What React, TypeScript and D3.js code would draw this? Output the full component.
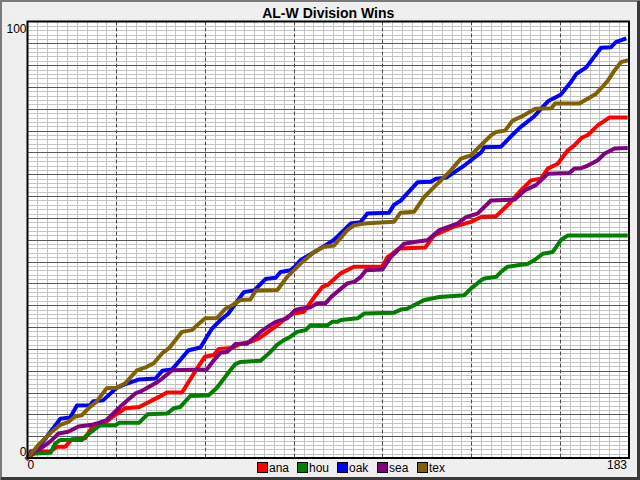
import React from 'react';
import * as d3 from 'd3';

// cumulative wins, [day of season, wins]
const teams = ['ana', 'hou', 'oak', 'sea', 'tex'];
const teamColors = ['#ff0000', '#008000', '#0000ff', '#800080', '#806000'];

const anaWins: [number, number][] = [
  [0, 0], [3, 1.5], [7, 1.5], [9, 2.6], [11.5, 2.6], [13.5, 4.3], [17.5, 4.5], [20, 7.5], [23, 7.7],
  [26, 9.5], [29.7, 11.4], [34, 11.7], [40, 14], [42.4, 15], [47, 15], [52, 21], [54, 23.2],
  [56.7, 23.6], [58.2, 25], [62.2, 25.2], [64.8, 26.2], [67.8, 26.6], [70.4, 27.4], [76, 30.4],
  [79, 32.3], [81, 33.1], [84.1, 33.5], [87.7, 37.3], [89.7, 39.2], [91.2, 39.6], [95.3, 42.3],
  [99.3, 43.8], [107.9, 43.9], [109.5, 46], [110.5, 46.5], [113, 48], [121, 48.2], [123.7, 51],
  [129.3, 52.9], [134.9, 54.1], [138, 55.2], [142.6, 55.4], [146.6, 58.3], [150.1, 61.3],
  [153.2, 63.6], [156.2, 64], [158.3, 66.3], [161.3, 67.4], [164.4, 70.5], [166.4, 71.6],
  [168.5, 73.3], [170.5, 74], [173.5, 76.2], [177, 78], [182, 78],
];

const houWins: [number, number][] = [
  [0, 0], [1, 1], [7, 1.2], [8.4, 3.3], [9.9, 4.1], [16.5, 4.1], [18, 5.2], [22.1, 7.5], [26.7, 7.5],
  [28, 8.1], [34, 8.1], [36.5, 10], [42.5, 10.2], [44.5, 11.4], [46.5, 11.7], [49.5, 14.2],
  [55.1, 14.4], [57.5, 16], [60.2, 18.6], [61.7, 20.1], [63.2, 21.5], [64.8, 22], [70.9, 22.3],
  [73.9, 24.3], [75.9, 25.9], [78, 27], [80, 27.8], [82, 28.9], [84.6, 29.3], [86.1, 30.4],
  [91.2, 30.4], [92.7, 31.2], [94.3, 31.2], [95.3, 31.6], [100.4, 32], [102.4, 33.1], [111.5, 33.3],
  [113.6, 34], [115.5, 34.2], [120.7, 36.2], [125.3, 36.9], [132.9, 37.3], [134.9, 38.8],
  [138, 40.7], [139, 41.1], [142.6, 41.5], [144, 42.6], [146, 43.8], [152.2, 44.5], [154.2, 45.3],
  [156.8, 46.8], [159.8, 47.2], [162.3, 49.9], [164.4, 51], [182, 51],
];

const oakWins: [number, number][] = [
  [0, 0], [5, 4], [7, 6], [10, 9], [13, 9.3], [15, 12], [19, 12.1], [20, 13], [23, 13.2], [27, 16],
  [30, 17], [34, 18], [39, 18.2], [41, 20], [44, 20.3], [49, 24.7], [52.6, 25.3], [56, 29.5],
  [58.7, 31.6], [61, 33], [65.8, 38], [69, 38.4], [72.4, 41], [75.5, 41.3], [77, 42.6], [80, 43],
  [81.6, 44], [83, 45.3], [88.2, 47.6], [91.2, 49], [93.3, 50], [98.3, 53.7], [101.3, 54],
  [103.4, 56], [110, 56.2], [111.5, 58], [113.6, 59], [118.7, 63.2], [122.8, 63.3], [124.3, 64],
  [127.3, 64.2], [132.9, 67], [138, 70], [139, 71.2], [144, 71.3], [147.5, 74], [150, 75.8],
  [154.2, 78.3], [156.5, 80.2], [158.5, 81.8], [162.2, 83.2], [165.2, 86], [167, 88], [170, 89.5],
  [174.5, 94], [177.5, 94.1], [179, 95.3], [181.6, 96],
];

const seaWins: [number, number][] = [
  [0, 0], [1, 1.5], [3.3, 1.8], [7, 3.8], [9.4, 5.6], [12.4, 6], [15.5, 7.2], [19.6, 7.6], [21, 7.9],
  [24.1, 8.7], [27.2, 11], [28.7, 12.1], [32.8, 14.8], [34.3, 15.2], [38.9, 17.1], [41, 18.2],
  [44, 20.1], [54.6, 20.3], [56.7, 22.4], [58.7, 24.1], [60.7, 24.3], [63.3, 26.1], [66.8, 26.2],
  [69.4, 27.8], [70.9, 28.9], [73, 30], [75.5, 31.2], [79, 32], [81.5, 33.9], [83, 34.2],
  [86, 34.5], [88, 35.4], [90.7, 35.5], [92.5, 37], [97.3, 40], [99.5, 40.4], [101.4, 41.5],
  [103, 43], [108, 43.2], [110.5, 46], [112.6, 47.6], [114.6, 49.1], [117.6, 49.5], [121.7, 49.9],
  [125.3, 52.2], [127.8, 52.9], [130.8, 53.7], [133.4, 55.2], [136.9, 56], [141, 59], [148.2, 59.2],
  [151.2, 61.3], [154.7, 62.5], [156.2, 63.6], [158.3, 65.1], [164.9, 65.3], [166.4, 66.3],
  [168.4, 66.4], [170.5, 67], [173.5, 68.2], [175.5, 69.7], [178.6, 70.9], [182, 71],
];

const texWins: [number, number][] = [
  [0, 0], [3.3, 3], [7.4, 6], [10, 7.6], [12.5, 8.3], [14.5, 9.5], [16.5, 9.8], [19, 11.7], [21, 12.9],
  [24.1, 16], [27.2, 16.1], [29.7, 17.1], [33.3, 20.1], [36.3, 20.9], [38.4, 21.7], [41, 24],
  [43, 25.1], [47, 28.9], [50, 29.3], [51.6, 30.4], [54.1, 32], [57.7, 32.1], [60.2, 34.2],
  [62.3, 35], [64.8, 36.2], [67.8, 36.3], [69.5, 38.4], [76, 38.5], [79, 41.5], [83, 44.5],
  [87.2, 47.2], [90.2, 48.4], [93.3, 48.7], [97.3, 52.2], [99.3, 53.3], [102.4, 53.7], [111.5, 54.1],
  [113.5, 56.2], [117.6, 56.4], [120.7, 59.8], [122.7, 61.3], [126.3, 64], [128.8, 65.9],
  [131.9, 68.6], [134.9, 69.3], [136.4, 70.5], [141, 73.9], [142.6, 74.7], [145.3, 75], [147.6, 77.3],
  [150.5, 78.3], [154.5, 80], [159.4, 80.1], [160.5, 81.2], [167.9, 81.2], [170.4, 82.3],
  [172.9, 83.4], [174.9, 85], [176.6, 86.5], [178.6, 88.8], [180.6, 90.7], [182.1, 91],
];

const teamSeries = [anaWins, houWins, oakWins, seaWins, texWins];

const dayDomain = [0, 183];
const winDomain = [0, 100];

const W = 640;
const H = 480;
const FONT = '"Liberation Sans", Arial, sans-serif';

const App: React.FC = () => {
  const x = d3.scaleLinear().domain(dayDomain).range([27.5, 629]);
  const y = d3.scaleLinear().domain(winDomain).range([458, 21.5]);

  const line = d3.line<[number, number]>()
    .x(d => x(d[0]))
    .y(d => y(d[1]));

  const minorDays = d3.range(3, 183, 3).filter(d => d % 27 !== 0);
  const majorDays = d3.range(27, 183, 27);
  const minorWins = d3.range(1, 100).filter(w => w % 5 !== 0);
  const majorWins = d3.range(5, 100, 5);

  const [x0, x1] = x.range();
  const [y0, y1] = y.range();

  return (
    <svg
      width={W}
      height={H}
      style={{ position: 'fixed', left: 0, top: 0, display: 'block' }}
      fontFamily={FONT}
    >
      {/* window frame */}
      <rect x={0} y={0} width={W} height={H} fill="#efefef" />
      <path d={`M0.5,${H} V0.5 H${W}`} fill="none" stroke="#7a7a7a" strokeWidth={3} />
      <path d={`M1,${H - 1.5} H${W - 1.5} V1`} fill="none" stroke="#3a3a3a" strokeWidth={3} />

      <text x={(x0 + x1) / 2} y={17.5} textAnchor="middle" fontSize={14} fontWeight="bold" fill="#000">
        AL-W Division Wins
      </text>

      {/* plot area */}
      <rect x={x0} y={y1} width={x1 - x0} height={y0 - y1} fill="#ffffff" />

      {minorWins.map(w => (
        <line key={'mw' + w} x1={x0} x2={x1} y1={Math.round(y(w)) + 0.5} y2={Math.round(y(w)) + 0.5}
          stroke="#c4c4c4" strokeWidth={1} />
      ))}
      {minorDays.map(d => (
        <line key={'md' + d} x1={Math.round(x(d)) + 0.5} x2={Math.round(x(d)) + 0.5} y1={y1} y2={y0}
          stroke="#c4c4c4" strokeWidth={1} />
      ))}
      {majorWins.map(w => (
        <line key={'Mw' + w} x1={x0} x2={x1} y1={Math.round(y(w)) + 0.5} y2={Math.round(y(w)) + 0.5}
          stroke="#5a5a5a" strokeWidth={1} />
      ))}
      {majorDays.map(d => (
        <line key={'Md' + d} x1={Math.round(x(d)) + 0.5} x2={Math.round(x(d)) + 0.5} y1={y1} y2={y0}
          stroke="#4a4a4a" strokeWidth={1} strokeDasharray="4,2" />
      ))}

      {teamSeries.map((s, i) => (
        <path key={teams[i]} d={line(s) || ''} fill="none" stroke={teamColors[i]}
          strokeWidth={4} strokeLinejoin="round" strokeLinecap="square" />
      ))}

      <rect x={x0} y={y1} width={x1 - x0} height={y0 - y1} fill="none" stroke="#000" strokeWidth={2} />

      {/* axis labels */}
      <text x={x0 - 1} y={y(winDomain[1]) + 11} textAnchor="end" fontSize={12} fill="#000">{winDomain[1]}</text>
      <text x={x0 - 1} y={y(winDomain[0]) - 2} textAnchor="end" fontSize={12} fill="#000">{winDomain[0]}</text>
      <text x={x(dayDomain[0])} y={y0 + 11} textAnchor="start" fontSize={12} fill="#000">{dayDomain[0]}</text>
      <text x={x(dayDomain[1]) - 2} y={y0 + 11} textAnchor="end" fontSize={12} fill="#000">{dayDomain[1]}</text>

      {/* legend */}
      {teams.map((t, i) => (
        <g key={'lg' + t} transform={`translate(${257 + i * 40},462)`}>
          <rect x={0.5} y={0.5} width={10} height={10} fill={teamColors[i]} stroke="#000" strokeWidth={1} />
          <text x={12} y={9.5} fontSize={12} fill="#000">{t}</text>
        </g>
      ))}
    </svg>
  );
};

export default App;
